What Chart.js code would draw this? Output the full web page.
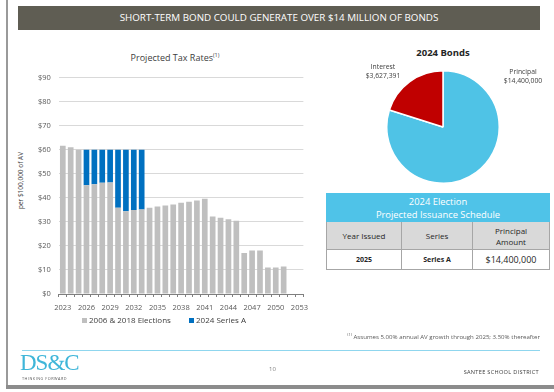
<html>
<head>
  <meta charset="UTF-8">
  <title>Short-Term Bond</title>
  <script src="https://cdn.jsdelivr.net/npm/chart.js"></script>
  <style>
    body { margin: 0; width: 554px; height: 392px; background: #fff; font-family: 'Open Sans', sans-serif; position: relative; overflow: hidden; }
    .abs { position: absolute; }
    #banner { left: 18px; top: 6px; width: 522px; height: 24px; background: #5f5d53; color: #fff; font-size: 9.8px; line-height: 24px; text-align: center; }
    #frameLeft { left: 6px; top: 0; width: 2px; height: 386px; background: #9a9a9a; }
    #frameBottom { left: 6px; top: 385px; width: 548px; height: 4px; background: #8c8c8c; }
    #barTitle { left: 60px; top: 51px; width: 230px; text-align: center; font-size: 9px; color: #404040; }
    #barTitle sup { font-size: 5.5px; }
    #yTitle { left: -30px; top: 176px; width: 100px; text-align: center; font-size: 6.5px; color: #404040; transform: rotate(-90deg); }
    #barWrap { left: 30px; top: 65px; width: 284px; height: 253px; }
    #legend { left: 60px; top: 314px; width: 250px; font-size: 8px; color: #404040; }
    #legend span.box { display: inline-block; width: 5px; height: 5px; margin-right: 2px; vertical-align: 0px; }
    #pieTitle { left: 393px; top: 46px; width: 100px; text-align: center; font-size: 9.5px; font-weight: bold; color: #262626; }
    #pieWrap { left: 386px; top: 70px; width: 114px; height: 114px; }
    .pieLbl { font-size: 6.8px; color: #404040; text-align: center; line-height: 9px; }
    table { border-collapse: collapse; font-family: 'Open Sans', sans-serif; }
    #tbl { left: 326px; top: 193px; width: 224px; }
    #tbl td { border: 1px solid #a6a6a6; text-align: center; color: #262626; padding: 0; }
    #tbl .head { background: #4fc3e8; color: #fff; font-size: 9.4px; line-height: 13px; height: 28px; border-color: #4fc3e8; }
    #tbl .sub td { background: #d9d9d9; font-size: 8px; line-height: 11px; height: 28px; }
    #tbl .row td { font-size: 7px; height: 20px; font-weight: bold; }
    #tbl .row td.amt { font-size: 9px; font-weight: normal; }
    #foot { right: 14px; top: 332px; font-size: 6.1px; color: #595959; }
    #foot sup { font-size: 4px; }
    #rule { left: 22px; top: 350px; width: 518px; height: 1px; background: #8fd6ee; }
    #logo { left: 20px; top: 350px; font-family: 'Liberation Serif', serif; font-size: 23px; color: #3fb6d9; letter-spacing: -1px; }
    #logo2 { left: 22px; top: 376px; font-size: 3.8px; color: #595959; letter-spacing: 0.5px; }
    #page { left: 269px; top: 365px; font-size: 6px; color: #7f7f7f; }
    #district { right: 15px; top: 368px; font-size: 5.6px; color: #404040; letter-spacing: 0.3px; }
  </style>
</head>
<body>
  <div class="abs" id="frameLeft"></div>
  <div class="abs" id="frameBottom"></div>
  <div class="abs" id="banner">SHORT-TERM BOND COULD GENERATE OVER $14 MILLION OF BONDS</div>

  <div class="abs" id="barTitle">Projected Tax Rates<sup>(1)</sup></div>
  <div class="abs" id="yTitle">per $100,000 of AV</div>
  <div class="abs" id="barWrap"><canvas id="barChart"></canvas></div>
  <div class="abs" id="legend"></div>

  <div class="abs" id="pieTitle">2024 Bonds</div>
  <div class="abs" id="pieWrap"><canvas id="pieChart"></canvas></div>
  <div class="abs pieLbl" style="left:355px; top:62px; width:56px;">Interest<br>$3,627,391</div>
  <div class="abs pieLbl" style="left:493px; top:67px; width:60px;">Principal<br>$14,400,000</div>

  <table class="abs" id="tbl">
    <tr><td class="head" colspan="3">2024 Election<br>Projected Issuance Schedule</td></tr>
    <tr class="sub"><td style="width:74px">Year Issued</td><td style="width:70px">Series</td><td>Principal<br>Amount</td></tr>
    <tr class="row"><td>2025</td><td>Series A</td><td class="amt">$14,400,000</td></tr>
  </table>

  <div class="abs" id="foot"><sup>(1)</sup> Assumes 5.00% annual AV growth through 2025; 3.50% thereafter</div>
  <div class="abs" id="rule"></div>
  <div class="abs" id="logo">DS&amp;C</div>
  <div class="abs" id="logo2">THINKING FORWARD</div>
  <div class="abs" id="page">10</div>
  <div class="abs" id="district">SANTEE SCHOOL DISTRICT</div>

  <script>
    // --- Data ---
    const years = ['2023','2024','2025','2026','2027','2028','2029','2030','2031','2032','2033',
                   '2034','2035','2036','2037','2038','2039','2040','2041','2042','2043','2044',
                   '2045','2046','2047','2048','2049','2050','2051','2052','2053'];
    const existingRates = [61.6, 61.0, 60.0, 45.2, 45.6, 46.2, 46.4, 35.9, 34.4, 34.9, 35.1,
                           35.9, 36.4, 36.8, 37.2, 37.9, 38.4, 38.9, 39.6, 32.2, 31.7, 31.1,
                           30.4, 17.0, 18.1, 18.1, 11.0, 11.0, 11.4, 0, 0];
    const seriesARates  = [0, 0, 0, 14.8, 14.4, 13.8, 13.6, 24.1, 25.6, 25.1, 24.9,
                           0, 0, 0, 0, 0, 0, 0, 0, 0, 0, 0,
                           0, 0, 0, 0, 0, 0, 0, 0, 0];
    const pieLabels = ['Principal', 'Interest'];
    const pieValues = [14400000, 3627391];

    const tickColor = '#595959';
    const tickFont = { family: 'Open Sans', size: 7.5 };

    // --- Bar chart ---
    const barChart = new Chart(document.getElementById('barChart'), {
      type: 'bar',
      data: {
        labels: years,
        datasets: [
          { label: '2006 & 2018 Elections', data: existingRates, backgroundColor: '#bfbfbf', barPercentage: 0.72, categoryPercentage: 1 },
          { label: '2024 Series A', data: seriesARates, backgroundColor: '#0070c0', barPercentage: 0.72, categoryPercentage: 1 }
        ]
      },
      options: {
        responsive: true, maintainAspectRatio: false, animation: false,
        layout: { padding: { top: 0, right: 0, left: 0, bottom: 0 } },
        plugins: { legend: { display: false }, tooltip: { enabled: false } },
        scales: {
          x: {
            stacked: true,
            grid: { display: true, drawOnChartArea: false, drawTicks: true, tickLength: 3, color: '#7f7f7f' },
            border: { color: '#7f7f7f' },
            ticks: {
              autoSkip: false, maxRotation: 0, color: tickColor, font: tickFont, padding: 6,
              callback: (v, i) => (i % 3 === 0 ? years[i] : '')
            }
          },
          y: {
            stacked: true, min: 0, max: 90,
            grid: { color: '#d9d9d9', drawTicks: false },
            border: { display: false },
            ticks: { stepSize: 10, color: tickColor, font: tickFont, padding: 8, callback: v => '$' + v }
          }
        }
      }
    });

    // --- Legend (from the dataset labels/colours) ---
    const legendEl = document.getElementById('legend');
    barChart.data.datasets.forEach((ds, i) => {
      const item = document.createElement('span');
      item.style.position = 'absolute';
      item.style.left = (i === 0 ? 22 : 129) + 'px';
      item.innerHTML = '<span class="box" style="background:' + ds.backgroundColor + '"></span>' + ds.label;
      legendEl.appendChild(item);
    });

    // --- Pie chart ---
    new Chart(document.getElementById('pieChart'), {
      type: 'pie',
      data: {
        labels: pieLabels,
        datasets: [{ data: pieValues, backgroundColor: ['#4fc3e6', '#c00000'], borderColor: '#ffffff', borderWidth: 1.5 }]
      },
      options: {
        responsive: true, maintainAspectRatio: false, animation: false,
        plugins: { legend: { display: false }, tooltip: { enabled: false } }
      }
    });
  </script>
</body>
</html>
